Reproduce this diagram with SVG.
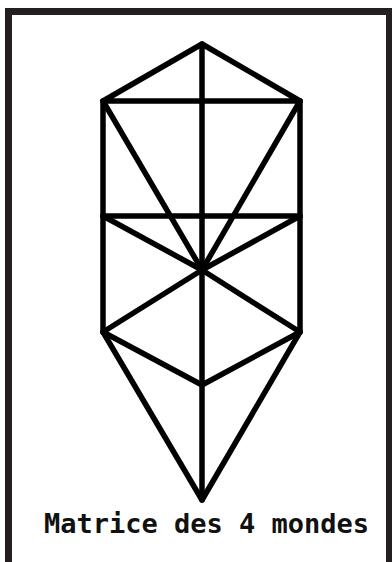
<svg xmlns="http://www.w3.org/2000/svg" width="392" height="562" viewBox="0 0 392 562">
<style>
.frame{fill:none;stroke:#231f20;stroke-width:7}
.ln{stroke:#000;stroke-width:5.5;stroke-linecap:round;stroke-linejoin:round;fill:none}
.lbl{font-family:"DejaVu Sans Mono","Liberation Mono",monospace;font-weight:bold;font-size:27px;fill:#111}
</style>
<rect x="0" y="0" width="392" height="562" fill="#fff"/>
<g id="frame">
<path class="frame" d="M8.5,562 V11.5 H389.5 V562"/>
</g>
<g id="connectors">
<path class="ln" d="M202,44 L103,101 L300,101 Z"/>
<line class="ln" x1="202" y1="44" x2="202" y2="500"/>
<line class="ln" x1="103" y1="101" x2="103" y2="332"/>
<line class="ln" x1="300" y1="101" x2="300" y2="332"/>
<line class="ln" x1="103" y1="216" x2="300" y2="216"/>
<line class="ln" x1="103" y1="101" x2="202" y2="270"/>
<line class="ln" x1="300" y1="101" x2="202" y2="270"/>
<line class="ln" x1="103" y1="216" x2="202" y2="270"/>
<line class="ln" x1="300" y1="216" x2="202" y2="270"/>
<line class="ln" x1="103" y1="332" x2="202" y2="270"/>
<line class="ln" x1="300" y1="332" x2="202" y2="270"/>
<path class="ln" d="M103,332 L202,385 L300,332"/>
<path class="ln" d="M103,332 L202,500 L300,332"/>
</g>
<g id="label">
<text class="lbl" x="206.5" y="533" text-anchor="middle">Matrice des 4 mondes</text>
</g>
</svg>
